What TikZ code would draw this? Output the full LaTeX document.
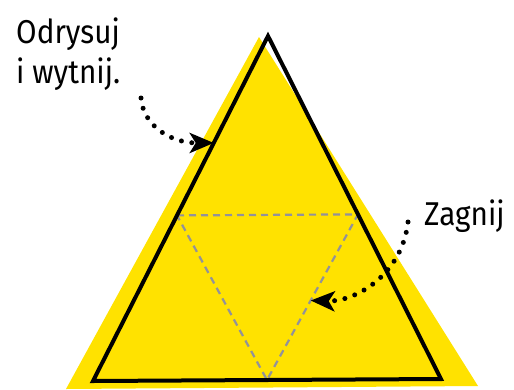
\documentclass[tikz,border=0pt]{standalone}
\usepackage{fontspec}
\setmainfont{Fira Sans}[FakeStretch=0.9]
\usetikzlibrary{arrows.meta,calc}
\definecolor{PaperYellow}{RGB}{255,226,0}
\definecolor{FoldGray}{RGB}{146,146,154}
\tikzset{
  cutline/.style={draw=black, line width=4pt, line join=miter},
  foldline/.style={draw=FoldGray, line width=2.2pt, dash pattern=on 7pt off 5pt},
  hint/.style={font=\fontsize{33}{40}\selectfont, inner sep=0pt, anchor=base west},
  dotarrow/.style={line width=5pt, line cap=round, dash pattern=on 0pt off 10.5pt,
    -{Stealth[length=24pt, width=20pt, inset=6pt]}}
}
\begin{document}
\begin{tikzpicture}[x=1pt, y=-1pt]
  \useasboundingbox (0,0) rectangle (514,389);
  % paper
  \fill[PaperYellow] (259,37) -- (66,389) -- (478,386) -- cycle;
  % triangle to cut out
  \coordinate (apex) at (268,36);
  \coordinate (left) at (93,381);
  \coordinate (right) at (441,379);
  \coordinate (midl) at ($(apex)!0.52!(left)$);
  \coordinate (midr) at ($(apex)!0.52!(right)$);
  \coordinate (midb) at ($(left)!0.5!(right)$);
  \draw[foldline] (midl) -- (midr) -- (midb) -- cycle;
  \draw[cutline] (apex) -- (left) -- (right) -- cycle;
  % hints
  \node[hint] (odrysuj) at (16,43) {Odrysuj};
  \node[hint] (wytnij) at (16,83) {i wytnij.};
  \node[hint] (zagnij) at (424,225) {Zagnij};
  \coordinate (cuthint) at (141,98);
  \coordinate (cutto) at ($(apex)!0.31!(left)$);
  \coordinate (foldhint) at (408,222);
  \coordinate (foldto) at ($(midr)!0.52!(midb)$);
  \draw[dotarrow] (cuthint) .. controls (143,125) and (170,143) .. (cutto);
  \draw[dotarrow] (foldhint) .. controls (402,275) and (355,302) .. (foldto);
\end{tikzpicture}
\end{document}
